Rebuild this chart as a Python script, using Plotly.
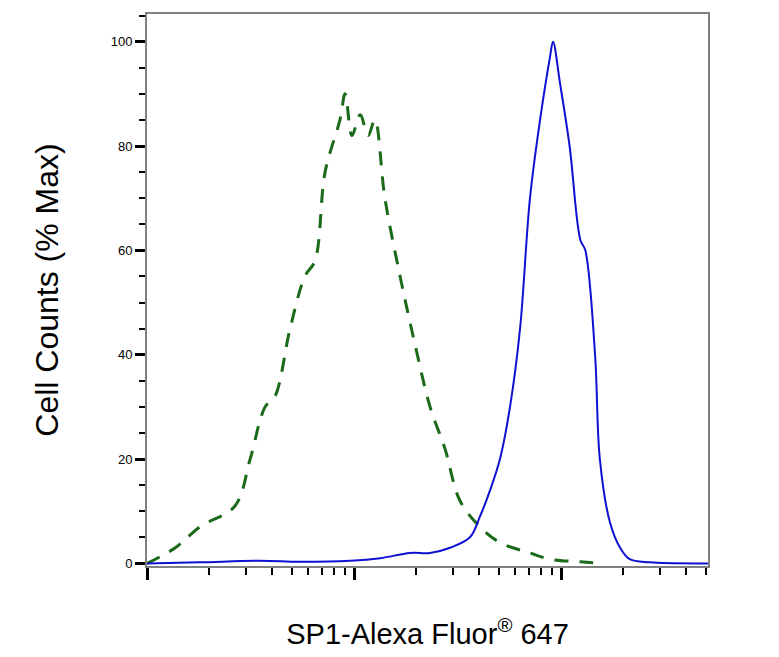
import plotly.graph_objects as go

iso_x = [1, 1.37, 1.80, 2.66, 3.15, 3.72, 4.15, 4.91, 5.79, 6.48, 7.25, 8.55, 9.06, 9.78, 10.7, 11.7,
         12.6, 14.1, 16.7, 19.7, 23.3, 27.5, 32.5, 40.6, 50.7, 70.8, 88.4, 124, 154]
iso_y = [0, 3, 7, 11, 20, 30, 32, 45, 55, 58, 75, 85, 90, 82, 86, 82,
         85, 70, 55, 42, 30, 22, 12, 7, 4, 2, 0.8, 0.3, 0]
sp1_x = [1, 1.80, 3.51, 5.48, 9.57, 13.4, 18.6, 23.3, 29.1, 36.3, 40.6, 45.4, 50.7, 56.7, 63.4, 70.8,
         79.2, 88.4, 91.5, 98.9, 110, 124, 131, 146, 154, 172, 193, 215, 269, 513]
sp1_y = [0, 0.2, 0.5, 0.3, 0.5, 1, 2, 2, 3, 5, 9, 14, 20, 30, 45, 70,
         85, 97, 100, 92, 80, 62, 60, 40, 20, 8, 3, 0.8, 0.2, 0]

minor_x = [m * d for d in (1, 10, 100) for m in range(2, 10) if m * d < 513]

fig = go.Figure()
fig.add_trace(go.Scatter(x=iso_x, y=iso_y, mode="lines", line_shape="spline",
                         line=dict(color="#1a6a1a", width=3, dash="14px,11px")))
fig.add_trace(go.Scatter(x=sp1_x, y=sp1_y, mode="lines", line_shape="spline",
                         line=dict(color="#1010d0", width=2)))
fig.update_layout(
    width=779, height=657, showlegend=False,
    margin=dict(l=139, r=79, t=6, b=99),
    plot_bgcolor="white", paper_bgcolor="white",
    font=dict(family="Liberation Sans, Arial, sans-serif", color="black"),
    xaxis=dict(type="log", range=[0, 2.71], showgrid=False, zeroline=False, automargin=False,
               showline=True, linecolor="#808080", linewidth=2, mirror=True,
               tickvals=[1, 10, 100], ticktext=["", "", ""], ticks="outside",
               ticklen=12, tickwidth=3, tickcolor="black",
               minor=dict(tickvals=minor_x, ticks="outside", ticklen=7, tickwidth=1.5, tickcolor="black"),
               title=dict(text="SP1-Alexa Fluor<sup>®</sup> 647", font=dict(size=29), standoff=42)),
    yaxis=dict(range=[-0.5, 105.3], showgrid=False, zeroline=False, automargin=False,
               showline=True, linecolor="#808080", linewidth=2, mirror=True,
               tickvals=[0, 20, 40, 60, 80, 100], ticks="outside", ticklen=10, tickwidth=2.5,
               tickcolor="black", tickfont=dict(size=13),
               minor=dict(dtick=5, ticks="outside", ticklen=6, tickwidth=1.5, tickcolor="black"),
               title=dict(text="Cell Counts (% Max)", font=dict(size=32), standoff=42)),
)
fig.write_html("out.html")
